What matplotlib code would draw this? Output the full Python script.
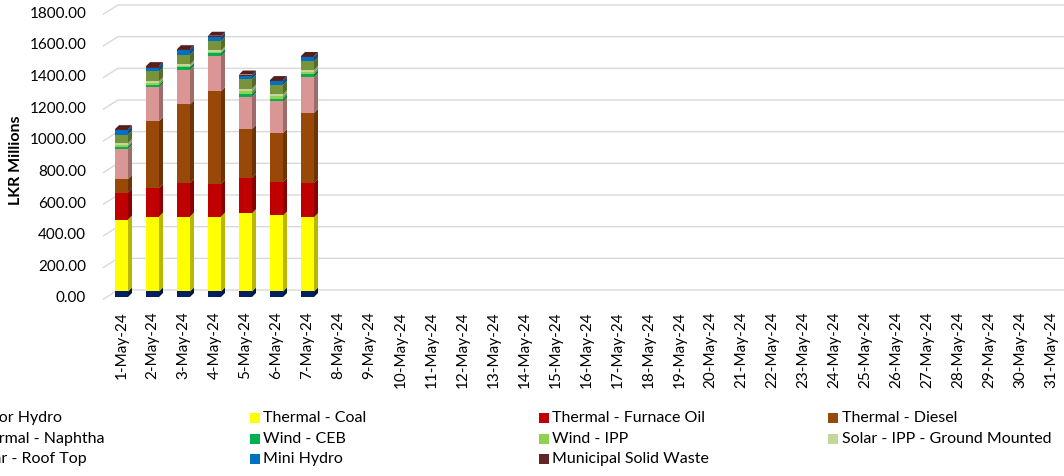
import matplotlib
matplotlib.use("Agg")
import matplotlib.pyplot as plt
from matplotlib.patches import Rectangle
import matplotlib.colors as mcolors
import numpy as np

plt.rcParams['font.family'] = ['Lato', 'DejaVu Sans']

# ---------------- data ----------------
days = [f"{d}-May-24" for d in range(1, 32)]

series_names = [
    "Major Hydro", "Thermal - Coal", "Thermal - Furnace Oil", "Thermal - Diesel",
    "Thermal - Naphtha", "Wind - CEB", "Wind - IPP", "Solar - IPP - Ground Mounted",
    "Solar - Roof Top", "Mini Hydro", "Municipal Solid Waste",
]
series_colors = [
    "#002060", "#FFFF00", "#C00000", "#984807",
    "#DA9694", "#00B050", "#92D050", "#C4D79B",
    "#77933C", "#0070C0", "#632523",
]

major_hydro = [35, 35, 35, 35, 35, 35, 35]
coal        = [454, 473, 473, 473, 494, 480, 469]
furnace_oil = [171, 179, 213, 207, 224, 210, 217]
diesel      = [86, 423, 495, 585, 309, 310, 442]
naphtha     = [190, 215, 219, 221, 204, 200, 225]
wind_ceb    = [14, 14, 16, 18, 18, 18, 20]
wind_ipp    = [10, 12, 8, 8, 18, 14, 12]
solar_ground = [12, 12, 10, 10, 14, 14, 14]
solar_roof  = [53, 62, 62, 62, 60, 58, 54]
mini_hydro  = [27, 24, 26, 22, 22, 23, 26]
msw         = [8, 9, 8, 9, 7, 8, 8]

series_values = [major_hydro, coal, furnace_oil, diesel, naphtha, wind_ceb,
                 wind_ipp, solar_ground, solar_roof, mini_hydro, msw]

y_ticks = [0, 200, 400, 600, 800, 1000, 1200, 1400, 1600, 1800]

# ---------------- figure ----------------
W, H = 1064, 476
fig = plt.figure(figsize=(W / 100, H / 100), dpi=100)
fig.patch.set_facecolor("white")

x_lo, x_hi = -0.6, 30.6
y_lo, y_hi = -20, 1860
px_per_cat = 31.0
px_per_unit = 285.0 / 1800.0
ax_left_px = 121.5 + x_lo * px_per_cat
ax_w_px = (x_hi - x_lo) * px_per_cat
ax_bottom_px = H - (297 + (-y_lo) * px_per_unit)
ax_h_px = (y_hi - y_lo) * px_per_unit
ax = fig.add_axes([ax_left_px / W, ax_bottom_px / H, ax_w_px / W, ax_h_px / H])
ax.set_xlim(x_lo, x_hi)
ax.set_ylim(y_lo, y_hi)
for s in ax.spines.values():
    s.set_visible(False)
ax.patch.set_alpha(0)

# gridlines (3D wall style: short slant then horizontal back line)
g_lo = -2.5 / px_per_unit
g_hi = 7.0 / px_per_unit
slant = 15.0 / px_per_cat
for v in y_ticks:
    ax.plot([x_lo, x_lo + slant, x_hi + 1], [v + g_lo, v + g_hi, v + g_hi],
            color="#D9D9D9", lw=1.0, zorder=0, clip_on=False, solid_capstyle="butt")

# bars with pseudo 3D faces
bw = 13.0 / px_per_cat
dx = 4.0 / px_per_cat
dy = 4.0 / px_per_unit


def shade(c, f):
    r, g, b = mcolors.to_rgb(c)
    return (r * f, g * f, b * f)


n = len(major_hydro)
xs = np.arange(n)
bottoms = np.zeros(n)
for name, vals, col in zip(series_names, series_values, series_colors):
    vals = np.array(vals, dtype=float)
    ax.bar(xs, vals, bottom=bottoms, width=bw, color=col, linewidth=0, zorder=3)
    for i in range(n):
        b = bottoms[i]
        t = b + vals[i]
        xr = xs[i] + bw / 2
        ax.fill([xr, xr + dx, xr + dx, xr], [b, b + dy, t + dy, t],
                color=shade(col, 0.72), linewidth=0, zorder=2)
    bottoms = bottoms + vals

top_col = series_colors[-1]
for i in range(n):
    T = bottoms[i]
    xl = xs[i] - bw / 2
    xr = xs[i] + bw / 2
    ax.fill([xl, xl + dx, xr + dx, xr], [T, T + dy, T + dy, T],
            color=shade(top_col, 0.85), linewidth=0, zorder=4)

# axes ticks
ax.set_yticks(y_ticks)
ax.set_yticklabels([f"{v:.2f}" for v in y_ticks], fontsize=11, color="#000000")
ax.set_xticks(np.arange(len(days)))
ax.set_xticklabels(days, rotation=90, fontsize=11, va="top", ha="center")
ax.tick_params(axis="y", length=0, pad=12)
ax.tick_params(axis="x", length=0, pad=8)
for lbl in ax.get_xticklabels():
    lbl.set_x(lbl.get_position()[0] - 0.05)

fig.text(16 / W, 1 - 160 / H, "LKR Millions", rotation=90, fontsize=11.5,
         fontweight="bold", ha="center", va="center")

# legend (Excel style, 4 evenly spaced columns, first column clipped)
col_x = [-41, 249.5, 539, 828]
row_y = [418, 439, 459]
msz = 10
for k, (name, col) in enumerate(zip(series_names, series_colors)):
    r, c = divmod(k, 4)
    x0 = col_x[c]
    yc = row_y[r]
    fig.patches.append(Rectangle((x0 / W, (H - yc - msz / 2) / H), msz / W, msz / H,
                                 transform=fig.transFigure, facecolor=col,
                                 edgecolor="none", figure=fig))
    fig.text((x0 + 13.5) / W, (H - yc) / H, name, fontsize=11.5, ha="left", va="center")

fig.savefig("out.png", dpi=100, facecolor="white")
